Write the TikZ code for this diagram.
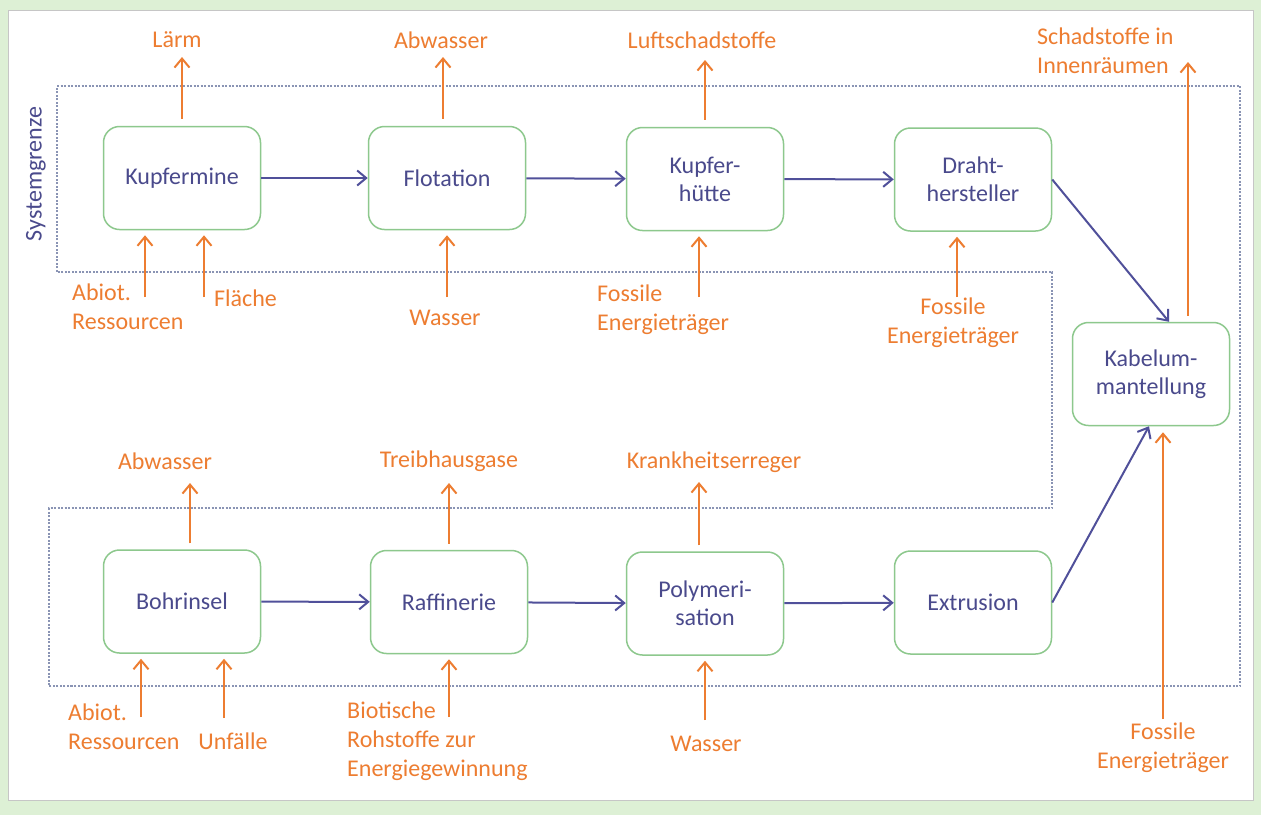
\documentclass[tikz,border=0pt]{standalone}
\usepackage{fontspec}
\setmainfont{Carlito}
\usetikzlibrary{arrows.meta}
\definecolor{bgGreen}{HTML}{DDF0D5}
\definecolor{boxGreen}{HTML}{8DC88D}
\definecolor{flowBlue}{HTML}{50509A}
\definecolor{txtBlue}{HTML}{4A4A8C}
\definecolor{envOrange}{HTML}{ED7D31}
\definecolor{borderGray}{HTML}{8A94B4}
\tikzset{
  procbox/.style={draw=boxGreen, line width=1.5pt, rounded corners=16pt, fill=white,
    minimum width=157pt, minimum height=103pt, inner sep=0pt, align=center,
    text=txtBlue, font=\fontsize{24}{28}\selectfont},
  envlabel/.style={text=envOrange, inner sep=0pt, font=\fontsize{24}{29}\selectfont},
  oarrow/.style={draw=envOrange, line width=2pt, -{Straight Barb[length=9pt,width=15pt,line width=2pt]}},
  barrow/.style={draw=flowBlue, line width=2pt, -{Straight Barb[length=9pt,width=15pt,line width=2pt]}},
  sysborder/.style={draw=borderGray, line width=1.5pt, dash pattern=on 2pt off 1.5pt}
}
\begin{document}
\begin{tikzpicture}[x=1pt,y=-1pt]
\useasboundingbox (0,0) rectangle (1261,815);
\fill[bgGreen] (0,0) rectangle (1261,815);
\filldraw[fill=white, draw=gray!45, line width=1pt] (8,10) rectangle (1253,800);

% system boundary
\draw[sysborder] (57,86) -- (1240,86) -- (1240,686) -- (49,686) -- (49,508)
  -- (1052,508) -- (1052,272) -- (57,272) -- cycle;
\node[text=txtBlue, rotate=90, inner sep=0pt, font=\fontsize{24}{28}\selectfont] (sg) at (36,174) {Systemgrenze};

% process boxes
\node[procbox] (km) at (182,178) {Kupfermine};
\node[procbox] (fl) at (447,178) {Flotation};
\node[procbox] (kh) at (705,179) {Kupfer-\\hütte};
\node[procbox] (dh) at (973,179.5) {Draht-\\hersteller};
\node[procbox] (kb) at (1151,374) {Kabelum-\\mantellung};
\node[procbox] (bi) at (182,601.5) {Bohrinsel};
\node[procbox] (rf) at (449,602) {Raffinerie};
\node[procbox] (po) at (705,603.5) {Polymeri-\\sation};
\node[procbox] (ex) at (973,602.5) {Extrusion};

% flows
\draw[barrow] (km) -- (fl);
\draw[barrow] (fl) -- (kh);
\draw[barrow] (kh) -- (dh);
\draw[barrow] (dh.east) -- ([xshift=18pt]kb.north);
\draw[barrow] (bi) -- (rf);
\draw[barrow] (rf) -- (po);
\draw[barrow] (po) -- (ex);
\draw[barrow] (ex.east) -- ([xshift=-2pt]kb.south);

% output labels
\node[envlabel] (laerm) at (177,40) {Lärm};
\node[envlabel] (abw1) at (441,40) {Abwasser};
\node[envlabel] (luft) at (702,40) {Luftschadstoffe};
\node[envlabel, anchor=west, align=left] (schad) at (1037,50.5) {Schadstoffe in\\Innenräumen};
\node[envlabel] (abw2) at (165,461) {Abwasser};
\node[envlabel] (treib) at (449,461) {Treibhausgase};
\node[envlabel] (krank) at (714,462) {Krankheitserreger};

% input labels
\node[envlabel, anchor=west, align=left] (abiot1) at (72,307) {Abiot.\\Ressourcen};
\node[envlabel, anchor=west] (flaeche) at (214,298) {Fläche};
\node[envlabel] (wass1) at (445,318) {Wasser};
\node[envlabel, anchor=west, align=left] (foss1) at (597,309.5) {Fossile\\Energieträger};
\node[envlabel, align=center] (foss2) at (953,323) {Fossile\\Energieträger};
\node[envlabel, anchor=west, align=left] (abiot2) at (68,727) {Abiot.\\Ressourcen};
\node[envlabel] (unf) at (233,741) {Unfälle};
\node[envlabel, anchor=west, align=left] (biot) at (347,741) {Biotische\\Rohstoffe zur\\Energiegewinnung};
\node[envlabel] (wass2) at (706,744) {Wasser};
\node[envlabel, align=center] (foss3) at (1163,747.5) {Fossile\\Energieträger};

% output arrow ends
\coordinate (laermE) at (182,57);
\coordinate (abw1E) at (443,57);
\coordinate (luftE) at (705,60);
\coordinate (schadE) at (1188,62);
\coordinate (abw2E) at (190,483);
\coordinate (treibE) at (449,483);
\coordinate (krankE) at (699,482);
% input arrow starts
\coordinate (abiot1S) at (145,297);
\coordinate (flaecheS) at (204,297);
\coordinate (wass1S) at (447,297);
\coordinate (foss1S) at (699,297);
\coordinate (foss2S) at (957,297);
\coordinate (abiot2S) at (141,717);
\coordinate (unfS) at (224,718);
\coordinate (biotS) at (449,717);
\coordinate (wass2S) at (705,720);
\coordinate (foss3S) at (1163,719);

% outputs
\draw[oarrow] ([yshift=7pt]km.north) -- (laermE);
\draw[oarrow] ([xshift=-4pt,yshift=7pt]fl.north) -- (abw1E);
\draw[oarrow] ([yshift=7pt]kh.north) -- (luftE);
\draw[oarrow] ([xshift=37pt,yshift=6pt]kb.north) -- (schadE);
\draw[oarrow] ([xshift=8pt,yshift=6pt]bi.north) -- (abw2E);
\draw[oarrow] ([yshift=6pt]rf.north) -- (treibE);
\draw[oarrow] ([xshift=-6pt,yshift=6pt]po.north) -- (krankE);
% inputs
\draw[oarrow] (abiot1S) -- ([xshift=-37pt,yshift=-5pt]km.south);
\draw[oarrow] (flaecheS) -- ([xshift=22pt,yshift=-5pt]km.south);
\draw[oarrow] (wass1S) -- ([yshift=-5pt]fl.south);
\draw[oarrow] (foss1S) -- ([xshift=-6pt,yshift=-5pt]kh.south);
\draw[oarrow] (foss2S) -- ([xshift=-16pt,yshift=-5pt]dh.south);
\draw[oarrow] (abiot2S) -- ([xshift=-41pt,yshift=-5pt]bi.south);
\draw[oarrow] (unfS) -- ([xshift=42pt,yshift=-5pt]bi.south);
\draw[oarrow] (biotS) -- ([yshift=-5pt]rf.south);
\draw[oarrow] (wass2S) -- ([yshift=-5pt]po.south);
\draw[oarrow] (foss3S) -- ([xshift=12pt,yshift=-6pt]kb.south);
\end{tikzpicture}
\end{document}
